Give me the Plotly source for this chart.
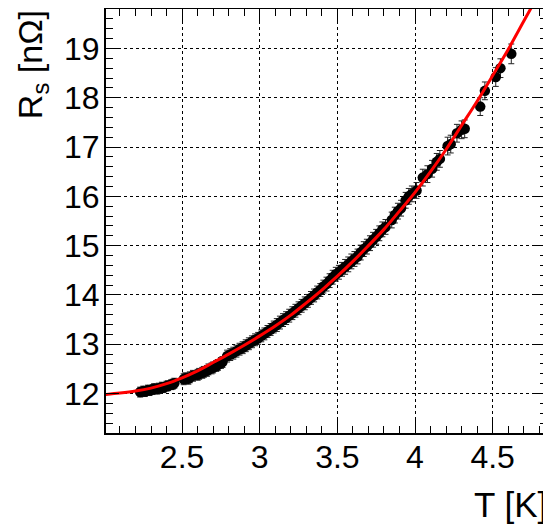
import plotly.graph_objects as go

# Measured data points (T in K, Rs in nOhm)
T_data = [2.23, 2.25, 2.26, 2.28, 2.29, 2.31, 2.32, 2.34, 2.35, 2.37, 2.38, 2.40, 2.41, 2.43, 2.44, 2.45,
          2.51, 2.52, 2.54, 2.55, 2.57, 2.60, 2.61, 2.63, 2.64, 2.66, 2.67, 2.69, 2.70, 2.72, 2.73, 2.75, 2.76,
          2.79, 2.81, 2.83, 2.85, 2.87, 2.89, 2.91, 2.93, 2.95, 2.97, 2.99, 3.01, 3.03, 3.05, 3.07, 3.09,
          3.11, 3.13, 3.15, 3.17, 3.19, 3.21, 3.23, 3.25, 3.27, 3.29, 3.31, 3.33, 3.35, 3.37, 3.39, 3.41,
          3.43, 3.45, 3.47, 3.49, 3.51, 3.53,
          3.55, 3.57, 3.59, 3.61, 3.63, 3.65, 3.67, 3.69, 3.71, 3.73, 3.75, 3.77, 3.79, 3.81,
          3.85, 3.87, 3.89, 3.91, 3.94, 3.96, 3.98, 4.01, 4.05, 4.08, 4.11, 4.14, 4.16, 4.21, 4.23,
          4.27, 4.30, 4.32, 4.42, 4.45, 4.52, 4.55, 4.62]
R_data = [12.03, 12.05, 12.04, 12.07, 12.06, 12.08, 12.10, 12.09, 12.11, 12.13, 12.12, 12.15, 12.16, 12.18, 12.19, 12.21,
          12.29, 12.31, 12.30, 12.33, 12.36, 12.38, 12.40, 12.42, 12.44, 12.46, 12.49, 12.51, 12.53, 12.56, 12.58, 12.62, 12.64,
          12.76, 12.79, 12.82, 12.86, 12.90, 12.93, 12.97, 13.01, 13.05, 13.09, 13.12, 13.17, 13.21, 13.26, 13.30, 13.35,
          13.39, 13.44, 13.49, 13.53, 13.58, 13.63, 13.68, 13.73, 13.78, 13.83, 13.88, 13.94, 13.99, 14.05, 14.10, 14.17,
          14.22, 14.29, 14.36, 14.42, 14.46, 14.52,
          14.57, 14.62, 14.68, 14.73, 14.78, 14.86, 14.93, 14.98, 15.05, 15.12, 15.18, 15.25, 15.33, 15.38,
          15.52, 15.62, 15.70, 15.76, 15.92, 16.00, 16.05, 16.12, 16.38, 16.45, 16.56, 16.70, 16.76, 17.02, 17.06,
          17.28, 17.35, 17.37, 17.82, 18.14, 18.42, 18.60, 18.89]
R_err = [0.10, 0.10, 0.10, 0.10, 0.10, 0.10, 0.10, 0.10, 0.10, 0.10, 0.10, 0.10, 0.10, 0.10, 0.10, 0.10,
         0.11, 0.11, 0.11, 0.11, 0.11, 0.11, 0.11, 0.11, 0.11, 0.11, 0.11, 0.11, 0.11, 0.11, 0.11, 0.11, 0.11,
         0.12, 0.12, 0.12, 0.12, 0.12, 0.12, 0.12, 0.12, 0.12, 0.12, 0.12, 0.12, 0.12, 0.12, 0.12, 0.12,
         0.13, 0.13, 0.13, 0.13, 0.13, 0.13, 0.13, 0.13, 0.13, 0.13, 0.13, 0.13, 0.13, 0.13, 0.13, 0.13,
         0.14, 0.14, 0.14, 0.14, 0.14, 0.14,
         0.15, 0.15, 0.15, 0.15, 0.15, 0.15, 0.15, 0.15, 0.15, 0.15, 0.15, 0.15, 0.15, 0.15,
         0.16, 0.16, 0.16, 0.16, 0.16, 0.16, 0.16, 0.16, 0.17, 0.17, 0.17, 0.17, 0.17, 0.18, 0.18,
         0.18, 0.18, 0.18, 0.18, 0.18, 0.19, 0.19, 0.20]

# Fit curve
T_fit = [2.0, 2.1, 2.2, 2.3, 2.4, 2.5, 2.6, 2.7, 2.8, 2.9, 3.0, 3.1, 3.2, 3.3, 3.4, 3.5,
         3.6, 3.7, 3.8, 3.9, 4.0, 4.1, 4.2, 4.3, 4.4, 4.5, 4.6, 4.7, 4.8]
R_fit = [11.98, 12.01, 12.05, 12.11, 12.20, 12.32, 12.46, 12.63, 12.80, 12.98, 13.17, 13.37, 13.59, 13.84, 14.10, 14.38,
         14.68, 15.00, 15.33, 15.70, 16.08, 16.50, 16.95, 17.44, 17.93, 18.45, 18.98, 19.55, 20.12]

x_ticks = [2.5, 3.0, 3.5, 4.0, 4.5]
x_labels = ["2.5", "3", "3.5", "4", "4.5"]
y_ticks = [12, 13, 14, 15, 16, 17, 18, 19]
y_labels = ["12", "13", "14", "15", "16", "17", "18", "19"]

FONT = "Liberation Sans, Arial, Helvetica, sans-serif"

fig = go.Figure()
fig.add_trace(go.Scatter(
    x=T_data, y=R_data, mode="markers",
    marker=dict(color="black", size=10.5, line=dict(width=0)),
    error_y=dict(type="data", array=R_err, color="#222222", thickness=1, width=3),
    showlegend=False))
fig.add_trace(go.Scatter(
    x=T_fit, y=R_fit, mode="lines", line=dict(color="#ff0000", width=3, shape="spline"),
    showlegend=False))

axis_common = dict(
    showline=True, linecolor="black", linewidth=2, mirror="allticks",
    ticks="inside", tickcolor="black", tickwidth=1, ticklen=13,
    showgrid=True, gridcolor="black", gridwidth=1, griddash="dot",
    zeroline=False, automargin=False,
    tickfont=dict(family=FONT, size=32, color="black"),
)

# page body has an 8px default margin, so the figure is sized to fit the window
fig.update_layout(
    width=543, height=519,
    margin=dict(l=98, r=4, t=1, b=94),
    paper_bgcolor="white", plot_bgcolor="white",
    xaxis=dict(range=[2.01, 4.85], tickvals=x_ticks, ticktext=x_labels,
               minor=dict(dtick=0.1, tick0=2.0, ticks="inside", ticklen=7, tickcolor="black",
                          tickwidth=1, showgrid=False),
               ticklabelstandoff=-5,
               **axis_common),
    yaxis=dict(range=[11.2, 19.8], tickvals=y_ticks, ticktext=y_labels,
               minor=dict(dtick=0.2, tick0=11.2, ticks="inside", ticklen=7, tickcolor="black",
                          tickwidth=1, showgrid=False),
               ticklabelstandoff=-2,
               **axis_common),
    annotations=[
        dict(text="T [K]", xref="paper", yref="paper", x=1.005, y=-0.168,
             xanchor="right", yanchor="middle", showarrow=False,
             font=dict(family=FONT, size=35, color="black")),
        dict(text="R<sub>s</sub> [nΩ]", xref="paper", yref="paper", x=-0.168, y=1.003,
             xanchor="center", yanchor="top", textangle=-90, showarrow=False,
             font=dict(family=FONT, size=34, color="black")),
    ],
)

fig.write_html("out.html")
